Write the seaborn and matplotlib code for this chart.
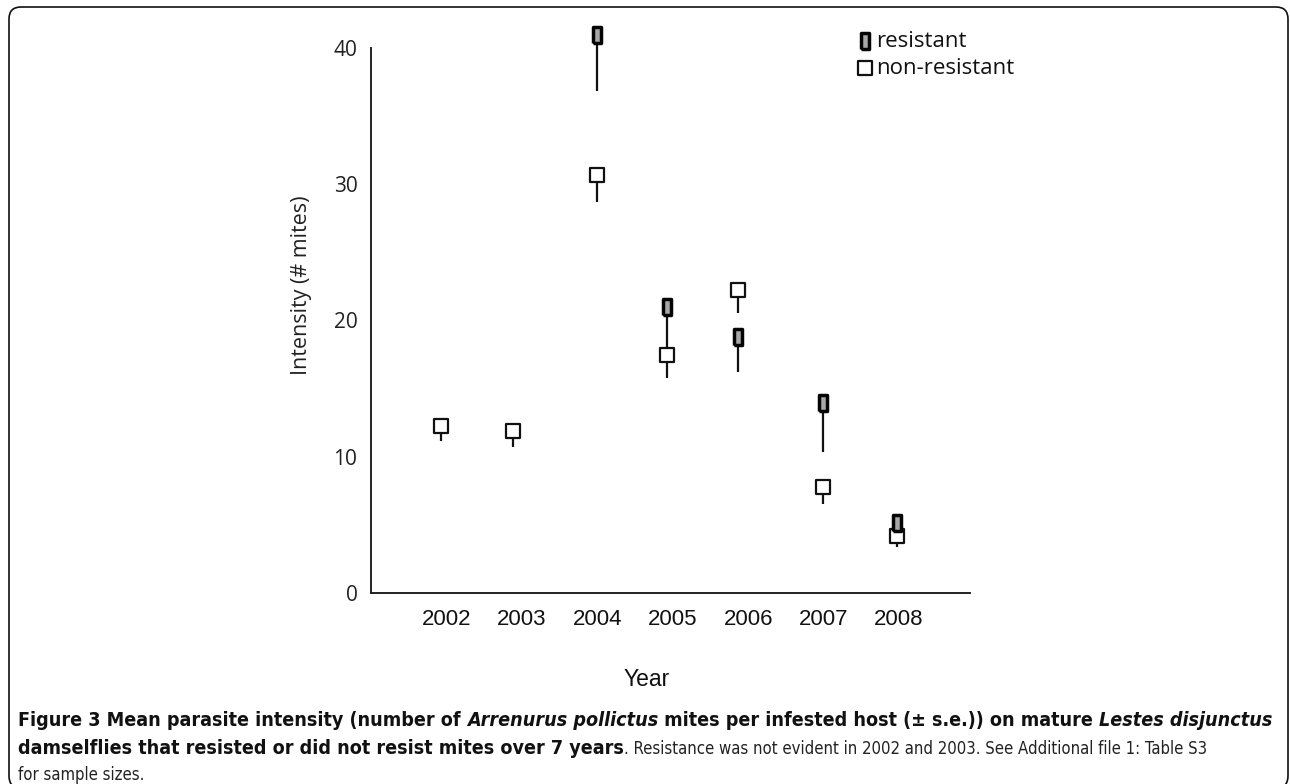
import numpy as np
import pandas as pd
import matplotlib
matplotlib.use("Agg")
import matplotlib.pyplot as plt
import matplotlib.transforms as mtransforms
from matplotlib.patches import FancyBboxPatch
from matplotlib import font_manager
from matplotlib.font_manager import FontProperties
import seaborn as sns

# ---------------- data ----------------
years = [2002, 2003, 2004, 2005, 2006, 2007, 2008]
year_shift = [-0.07, -0.12, 0.0, -0.07, -0.14, -0.01, -0.03]   # markers sit slightly off the tick
resistant_mean = [np.nan, np.nan, 40.9, 21.0, 18.75, 13.95, 5.1]
resistant_se = [np.nan, np.nan, 4.05, 3.2, 2.55, 3.6, 0.8]
nonres_mean = [12.25, 11.9, 30.65, 17.45, 22.25, 7.75, 4.2]
nonres_se = [1.1, 1.2, 2.0, 1.7, 1.7, 1.2, 0.85]
group_labels = ["resistant", "non-resistant"]
y_ticks = [0, 5, 10, 15, 20, 25, 30, 35, 40]
y_ticklabels = ["0", "", "10", "", "20", "", "30", "", "40"]
x_label = "Year"
y_label = "Intensity (# mites)"

df = pd.concat([
    pd.DataFrame({"year": years, "xpos": np.array(years) + np.array(year_shift),
                  "mean": resistant_mean, "se": resistant_se, "group": group_labels[0]}),
    pd.DataFrame({"year": years, "xpos": np.array(years) + np.array(year_shift),
                  "mean": nonres_mean, "se": nonres_se, "group": group_labels[1]}),
]).dropna()

# ---------------- fonts ----------------
myriad_like = "Open Sans"
arial_like = "Liberation Sans"


def find_condensed(weight_bold, italic):
    best = None
    for f in font_manager.fontManager.ttflist:
        nm = f.name.lower()
        cond = ("narrow" in nm or "condensed" in nm or
                str(f.stretch) in ("condensed", "semi-condensed", "extra-condensed") or
                (isinstance(f.stretch, int) and f.stretch < 500))
        if not cond:
            continue
        if "mono" in nm or ("serif" in nm and "sans" not in nm):
            continue
        is_bold = (f.weight in ("bold", "heavy", "black") or
                   (isinstance(f.weight, int) and f.weight >= 600))
        is_it = f.style in ("italic", "oblique")
        score = (is_bold != weight_bold) * 2 + (is_it != italic)
        if best is None or score < best[0]:
            best = (score, f.fname)
    if best is not None and best[0] == 0:
        return FontProperties(fname=best[1])
    return None


sns.set_theme(style="white")
plt.rcParams["font.family"] = [arial_like, "DejaVu Sans"]

W, H = 1290, 784
fig = plt.figure(figsize=(W / 100, H / 100), dpi=100)
fig.patch.set_facecolor("white")

# axes placed in pixel terms
ax_l, ax_r, ax_t, ax_b = 371, 970, 47.7, 593
ax = fig.add_axes([ax_l / W, 1 - ax_b / H, (ax_r - ax_l) / W, (ax_b - ax_t) / H])
ax.set_facecolor("none")

# error bars (lower only)
for g in group_labels:
    d = df[df["group"] == g]
    eb = ax.errorbar(d["xpos"], d["mean"], yerr=[d["se"], np.zeros(len(d))],
                     fmt="none", ecolor="#111111", elinewidth=1.6, capsize=0, zorder=2)
    for c in eb.lines[2]:
        c.set_clip_on(False)

# markers
rect_marker = [(-0.22, -0.5), (0.22, -0.5), (0.22, 0.5), (-0.22, 0.5), (-0.22, -0.5)]
d_non = df[df["group"] == "non-resistant"]
d_res = df[df["group"] == "resistant"]
sns.scatterplot(data=d_non, x="xpos", y="mean", marker="s", s=88, color="white",
                edgecolor="#111111", linewidth=1.6, ax=ax, zorder=3, clip_on=False,
                label="non-resistant", legend=False)
sns.scatterplot(data=d_res, x="xpos", y="mean", marker=rect_marker, s=140, color="#a8a8a8",
                edgecolor="#050505", linewidth=2.5, ax=ax, zorder=4, clip_on=False,
                label="resistant", legend=False)

ax.set_xlim(2001, 2008.94)
ax.set_ylim(0, 40)
ax.set_xticks([2001] + years)
ax.set_xticklabels([""] + [str(y) for y in years])
ax.set_yticks(y_ticks)
ax.set_yticklabels(y_ticklabels)
for sp in ["top", "right"]:
    ax.spines[sp].set_visible(False)
for sp in ["left", "bottom"]:
    ax.spines[sp].set_color("#222222")
    ax.spines[sp].set_linewidth(1.4)
ax.tick_params(axis="both", direction="out", length=5.8, width=1.4, color="#222222")
ax.tick_params(axis="x", labelsize=16, pad=6, labelcolor="#111111")
ax.tick_params(axis="y", labelsize=15, pad=4, labelcolor="#222222")
for t in ax.get_yticklabels():
    t.set_fontfamily([myriad_like, "DejaVu Sans"])
for t in ax.get_xticklabels():
    t.set_fontfamily([arial_like, "DejaVu Sans"])

ax.set_xlabel(x_label, fontsize=16.5, family=[arial_like, "DejaVu Sans"], color="#111111")
ax.xaxis.set_label_coords((647 - ax_l) / (ax_r - ax_l), -(679 - ax_b) / (ax_b - ax_t))
ax.xaxis.label.set_va("center")
ax.set_ylabel(y_label, fontsize=15.5, family=[myriad_like, "DejaVu Sans"], color="#222222")
ax.yaxis.set_label_coords(-(ax_l - 302) / (ax_r - ax_l), (ax_b - 285) / (ax_b - ax_t))
ax.yaxis.label.set_va("center")
ax.grid(False)

# legend
handles, labels = ax.get_legend_handles_labels()
order = [labels.index("resistant"), labels.index("non-resistant")]
leg = fig.legend([handles[i] for i in order], [labels[i] for i in order],
                 loc="upper left", bbox_to_anchor=(838 / W, 1 - 15 / H),
                 frameon=False, handletextpad=0.0, labelspacing=0.3,
                 handlelength=1.0, borderpad=0.2,
                 prop={"family": [myriad_like, "DejaVu Sans"], "size": 16})
for t in leg.get_texts():
    t.set_color("#111111")

# border box
box = FancyBboxPatch((9, -4), 1279, 784 - 7 + 4, boxstyle="round,pad=0,rounding_size=12",
                     transform=mtransforms.IdentityTransform(), facecolor="none",
                     edgecolor="#111111", linewidth=1.2)
fig.patches.append(box)

# caption
renderer = fig.canvas.get_renderer()
line1 = [("Figure 3 Mean parasite intensity (number of ", "bold", "normal"),
         ("Arrenurus pollictus", "bold", "italic"),
         (" mites per infested host (\u00b1 s.e.)) on mature ", "bold", "normal"),
         ("Lestes disjunctus", "bold", "italic")]
line2b = [("damselflies that resisted or did not resist mites over 7 years", "bold", "normal")]
line2n = [(". Resistance was not evident in 2002 and 2003. See Additional file 1: Table S3", "normal", "normal")]
line3 = [("for sample sizes.", "normal", "normal")]


def props_for(w, st, size):
    fp = find_condensed(w == "bold", st == "italic")
    if fp is None:
        fp = FontProperties(family=["Roboto", "Liberation Sans", "DejaVu Sans"], weight=w, style=st)
    fp = fp.copy()
    fp.set_size(size)
    return fp


def lay(runs, x0, y, size, draw=True, color="#111111"):
    x = x0
    texts = []
    for s, w, st in runs:
        t = fig.text(x / W, 1 - y / H, s, fontproperties=props_for(w, st, size),
                     va="baseline", ha="left", color=color)
        x += t.get_window_extent(renderer).width
        texts.append(t)
    if not draw:
        for t in texts:
            t.remove()
    return x - x0


base = 13.0
size_b = base * (1271 - 18) / lay(line1, 18, 724, base, draw=False)
lay(line1, 18, 726, size_b)
wb = lay(line2b, 18, 754, size_b)
x_n = 18 + wb
size_n = base * (1205 - x_n) / lay(line2n, x_n, 754, base, draw=False)
size_n = min(size_n, size_b)
lay(line2n, x_n, 754, size_n, color="#222222")
lay(line3, 18, 780, size_n, color="#222222")

fig.savefig("out.png", dpi=100)
